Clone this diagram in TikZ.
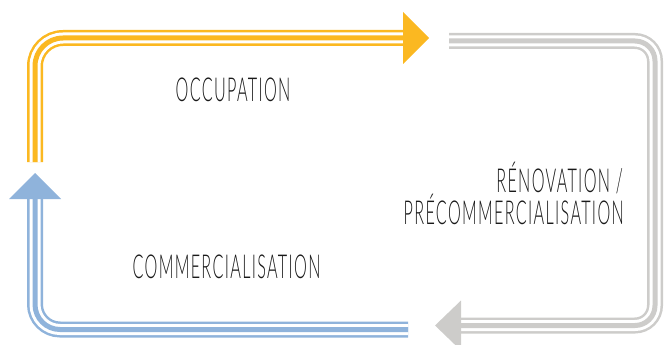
\documentclass[tikz,border=0pt]{standalone}
\usepackage{fontspec}
\setmainfont{Lato}[UprightFont={* Light},FakeStretch=0.49,LetterSpace=4]
\definecolor{cyellow}{RGB}{251,184,33}
\definecolor{cgrey}{RGB}{205,204,202}
\definecolor{cblue}{RGB}{143,179,219}
\definecolor{ctext}{RGB}{25,25,25}
\begin{document}
\begin{tikzpicture}[x=1pt,y=-1pt,
  band/.style={line width=16pt, draw=#1,
    postaction={draw=white, line width=11pt},
    postaction={draw=#1, line width=5pt}},
  txt/.style={font=\fontsize{33}{35}\selectfont, inner sep=0pt, text=ctext}]
\useasboundingbox (0,0) rectangle (665,345);

% path end points
\coordinate (y0) at (35,162);
\coordinate (y1) at (403,38);
\coordinate (g0) at (449,41);
\coordinate (gc) at (655,41);
\coordinate (g1) at (461,325.5);
\coordinate (b0) at (408,329.5);
\coordinate (b1) at (35,199);

% occupation (yellow)
\draw[band=cyellow, rounded corners=28pt] (y0) -- (y0 |- y1) -- (y1);
\fill[cyellow] (y1) ++(0,-26) -- ++(26,26) -- ++(-26,26) -- cycle;

% renovation (grey)
\draw[band=cgrey, rounded corners=20pt] (g0) -- (gc) -- (gc |- g1) -- (g1);
\fill[cgrey] (g1) ++(0,-25) -- ++(-26,25) -- ++(26,25) -- cycle;

% commercialisation (blue)
\draw[band=cblue, rounded corners=25pt] (b0) -- (b1 |- b0) -- (b1);
\fill[cblue] (b1) ++(-26,0) -- ++(26,-26) -- ++(26,26) -- cycle;

% labels
\node[txt, anchor=base] (occ) at (233,102) {OCCUPATION};
\node[txt, anchor=base east] (ren1) at (623,193) {RÉNOVATION /};
\node[txt, anchor=base east] (ren2) at (624,224) {PRÉCOMMERCIALISATION};
\node[txt, anchor=base] (com) at (226.5,278) {COMMERCIALISATION};
\end{tikzpicture}
\end{document}
